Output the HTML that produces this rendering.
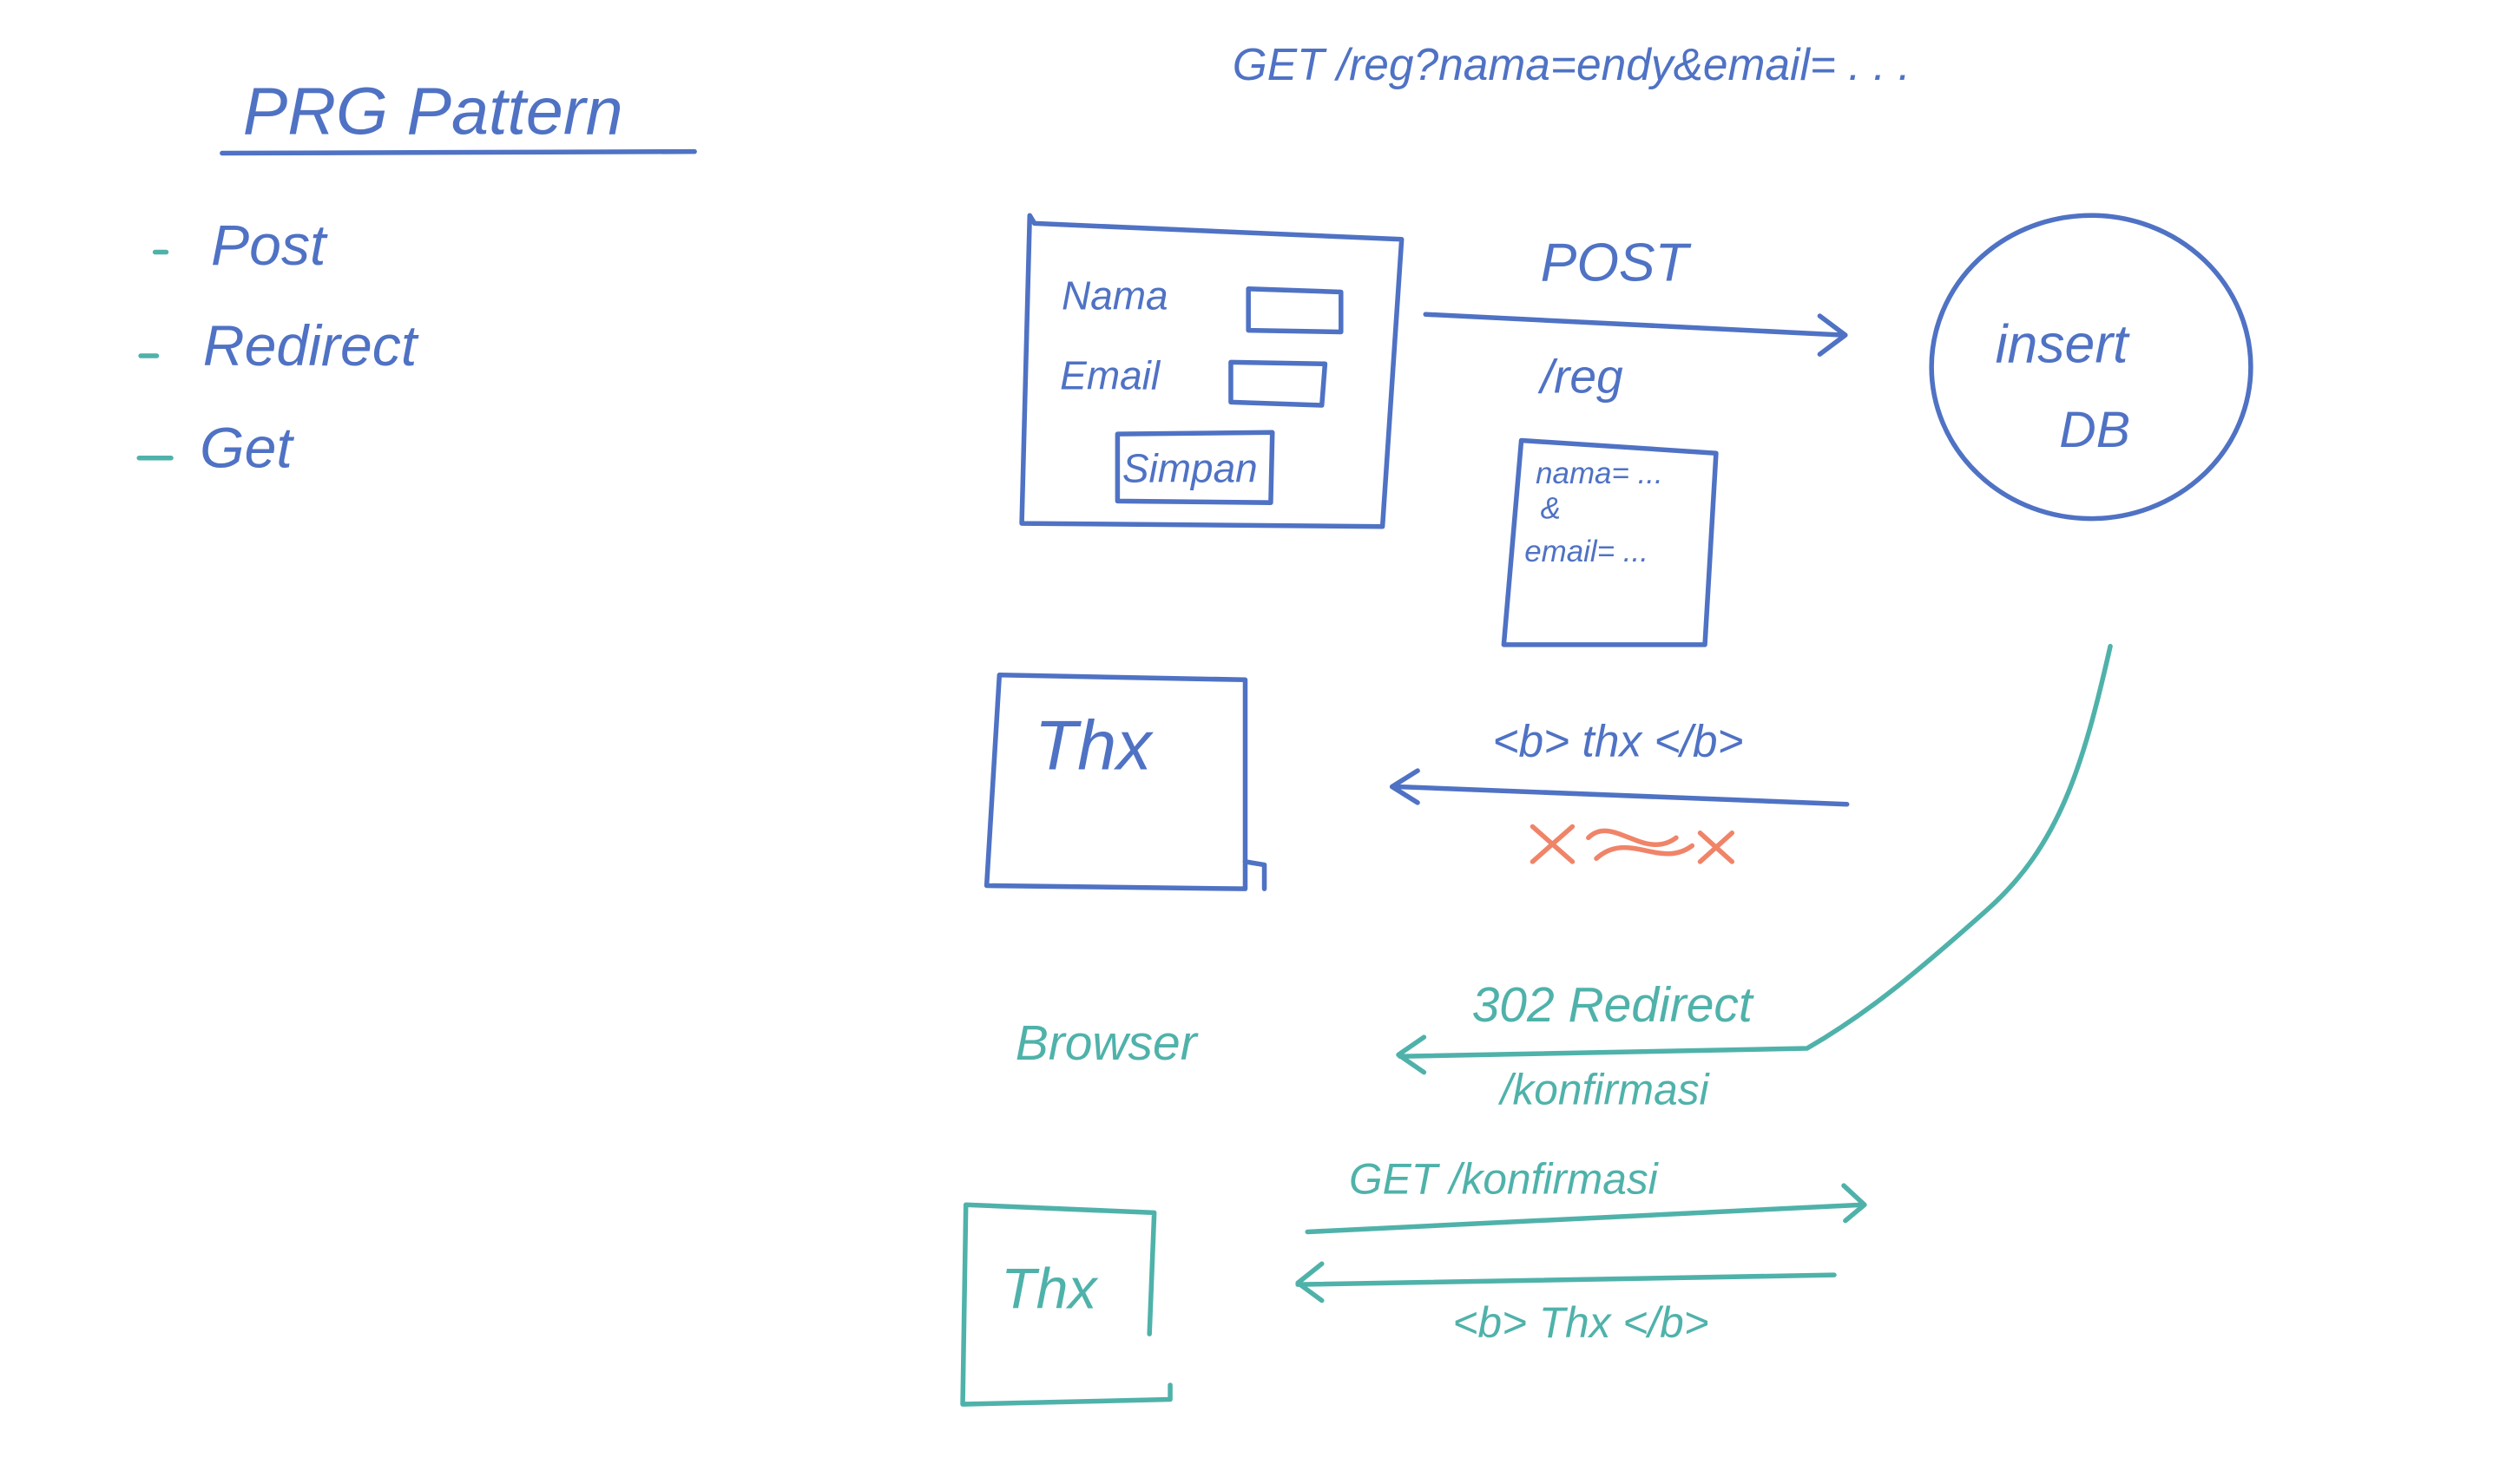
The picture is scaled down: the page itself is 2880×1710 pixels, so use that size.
<!DOCTYPE html>
<html><head><meta charset="utf-8"><style>
html,body{margin:0;padding:0;background:#fff;}
svg{display:block;}
text{font-family:"Liberation Sans",sans-serif;}
</style></head><body>
<svg width="2880" height="1710" viewBox="0 0 1566 930" xmlns="http://www.w3.org/2000/svg">
<rect width="1566" height="930" fill="#fff"/>
<g fill="none" stroke="#4f72c4" stroke-width="3" stroke-linecap="round" stroke-linejoin="round">
  <path d="M139 96 L435 95"/>
  <path d="M645 135 L648 140 L878 150 L866 330 L640 328 Z"/>
  <path d="M782 181 L840 183 L840 208 L782 207 Z"/>
  <path d="M771 227 L830 228 L828 254 L771 252 Z"/>
  <path d="M700 272 L797 271 L796 315 L700 314 Z"/>
  <path d="M893 197 L1155 210"/>
  <path d="M1140 198 L1156 210 L1140 222"/>
  <path d="M953 276 L1075 284 L1068 404 L942 404 Z"/>
  <ellipse cx="1310" cy="230" rx="100" ry="95"/>
  <path d="M626 423 L780 426 L780 557 L618 555 Z"/>
  <path d="M780 540 L792 542 L792 557"/>
  <path d="M1157 504 L875 493"/>
  <path d="M888 483 L872 493 L888 503"/>
</g>
<g fill="none" stroke="#4fb2aa" stroke-width="3" stroke-linecap="round" stroke-linejoin="round">
  <path d="M97 158 L104 158"/>
  <path d="M88 223 L98 223"/>
  <path d="M87 287 L107 287"/>
  <path d="M1322 405 C1305 480 1290 530 1245 570 C1200 610 1170 635 1132 657 L877 662"/>
  <path d="M892 650 L876 661 L892 672"/>
  <path d="M819 772 L1167 755"/>
  <path d="M1155 743 L1168 755 L1156 765"/>
  <path d="M1149 799 L813 805"/>
  <path d="M828 792 L813 804 L828 815"/>
  <path d="M605 755 L723 760 L720 836 M605 755 L603 880 L733 877 L733 868"/>
</g>
<path d="M960 518 L985 540 M985 518 L960 540 M995 525 C1010 510 1030 540 1050 525 M1000 538 C1020 520 1040 545 1060 530 M1065 522 L1085 540 M1085 522 L1065 540" fill="none" stroke="#f08468" stroke-width="3" stroke-linecap="round"/>
<g fill="#4f72c4" font-style="italic">
  <text x="152" y="84" font-size="42">PRG  Pattern</text>
  <text x="132" y="166" font-size="36">Post</text>
  <text x="127" y="229" font-size="36">Redirect</text>
  <text x="125" y="293" font-size="36">Get</text>
  <text x="772" y="50" font-size="28">GET   /reg?nama=endy&amp;email= . . .</text>
  <text x="665" y="194" font-size="25">Nama</text>
  <text x="664" y="244" font-size="25">Email</text>
  <text x="703" y="302" font-size="25">Simpan</text>
  <text x="965" y="176" font-size="34">POST</text>
  <text x="965" y="246" font-size="30">/reg</text>
  <text x="962" y="303" font-size="19">nama= ...</text>
  <text x="965" y="325" font-size="19">&amp;</text>
  <text x="955" y="352" font-size="19">email= ...</text>
  <text x="1250" y="227" font-size="34">insert</text>
  <text x="1290" y="280" font-size="32">DB</text>
  <text x="648" y="482" font-size="44">Thx</text>
  <text x="935" y="474" font-size="28">&lt;b&gt; thx &lt;/b&gt;</text>
</g>
<g fill="#4fb2aa" font-style="italic">
  <text x="636" y="664" font-size="31">Browser</text>
  <text x="922" y="640" font-size="31">302 Redirect</text>
  <text x="940" y="692" font-size="27">/konfirmasi</text>
  <text x="845" y="748" font-size="27">GET /konfirmasi</text>
  <text x="910" y="838" font-size="27">&lt;b&gt; Thx &lt;/b&gt;</text>
  <text x="627" y="820" font-size="36">Thx</text>
</g>
</svg>
</body></html>
